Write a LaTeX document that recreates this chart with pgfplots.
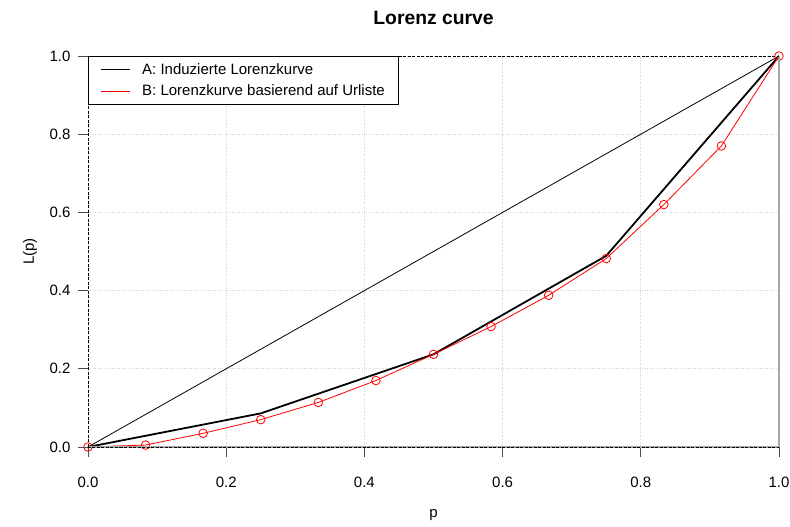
\documentclass[border=0pt]{standalone}
\usepackage{fontspec}
\setmainfont{Liberation Sans}
\usepackage{pgfplots}
\pgfplotsset{compat=1.18}
\definecolor{curveB}{RGB}{255,0,0}
\begin{document}
\begin{tikzpicture}[font=\fontsize{15pt}{18pt}\selectfont]
\path[use as bounding box] (-88pt,-80pt) rectangle (702pt,447pt);
\begin{axis}[
  at={(0pt,0pt)}, anchor=south west,
  scale only axis, width=691pt, height=391pt,
  xmin=0, xmax=1, ymin=0, ymax=1,
  axis line style={draw=none},
  xtick={0,0.2,0.4,0.6,0.8,1}, ytick={0,0.2,0.4,0.6,0.8,1},
  xtick pos=bottom, ytick pos=left,
  tick align=outside, major tick length=10pt,
  tick style={draw=gray!60!black, line width=0.8pt},
  /pgf/number format/fixed, /pgf/number format/fixed zerofill,
  /pgf/number format/precision=1, /pgf/number format/assume math mode=true,
  ticklabel style={font=\fontsize{15pt}{18pt}\selectfont},
  xticklabel style={yshift=-16pt},
  yticklabel style={xshift=-4pt},
  grid=major, major grid style={gray!35, dotted, line width=0.8pt},
  legend style={at={(0,1)}, anchor=north west, draw=black, line width=0.8pt,
    font=\fontsize{15pt}{18pt}\selectfont, inner xsep=12pt, inner ysep=5pt,
    row sep=5pt, cells={anchor=west}},
  legend image code/.code={\draw[#1] (0pt,0pt) -- (29pt,0pt);},
]
% equality line
\addplot[black, line width=0.8pt, forget plot] coordinates {(0,0) (1,1)};
% A: induced Lorenz curve from class data
\addplot[black, line width=1.8pt, forget plot]
  coordinates {(0,0) (0.25,0.086) (0.5,0.237) (0.75,0.489) (1,1)};
% B: Lorenz curve from the raw list
\addplot[draw=curveB, line width=0.8pt, mark=o, mark size=4.3pt,
  mark options={draw=curveB, line width=0.8pt}, forget plot]
  coordinates {
  (0,0) (0.08333,0.005) (0.16667,0.035) (0.25,0.070) (0.33333,0.114)
  (0.41667,0.170) (0.5,0.237) (0.58333,0.308) (0.66667,0.388)
  (0.75,0.482) (0.83333,0.620) (0.91667,0.770) (1,1)};
% legend entries
\addlegendimage{draw=black, line width=0.8pt}
\addlegendentry{\hspace{10pt}A: Induzierte Lorenzkurve}
\addlegendimage{draw=curveB, line width=0.8pt}
\addlegendentry{\hspace{10pt}B: Lorenzkurve basierend auf Urliste}
\end{axis}
% reference lines along the plot border
\draw[gray!70, line width=1.5pt] (0pt,0pt) -- (691pt,0pt);
\draw[black, line width=0.7pt, dash pattern=on 3pt off 1.5pt] (0pt,0pt) -- (691pt,0pt);
\draw[gray!70, line width=2pt] (691pt,0pt) -- (691pt,391pt);
\draw[black, line width=0.7pt, dash pattern=on 3pt off 1.5pt] (0pt,0pt) -- (0pt,391pt);
\draw[black, line width=0.7pt, dash pattern=on 3pt off 1.5pt] (0pt,391pt) -- (691pt,391pt);
% titles
\node[font=\bfseries\fontsize{19.3pt}{23pt}\selectfont] at (345.5pt,429pt) {Lorenz curve};
\node at (345.5pt,-68pt) {p};
\node[rotate=90] at (-58pt,195.5pt) {L(p)};
\end{tikzpicture}
\end{document}
